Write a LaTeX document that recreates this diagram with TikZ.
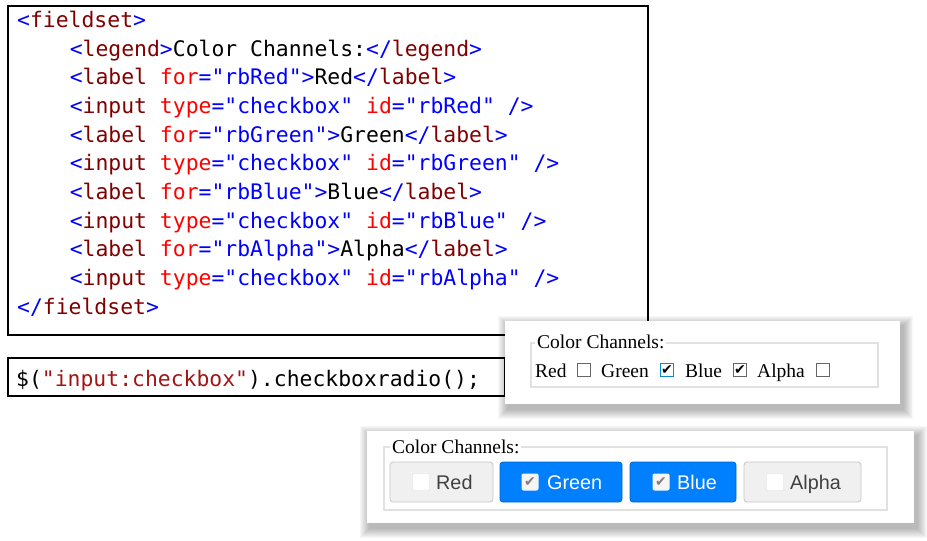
\documentclass[tikz,border=0pt]{standalone}
\usepackage{fontspec}
\setmainfont{Liberation Serif}
\setmonofont{DejaVu Sans Mono}
\newfontfamily\arialf{Liberation Sans}
\newfontfamily\djv{DejaVu Sans}
\usetikzlibrary{positioning}
\definecolor{tagb}{RGB}{0,0,255}
\definecolor{tagn}{RGB}{128,0,0}
\definecolor{attr}{RGB}{255,0,0}
\definecolor{strc}{RGB}{163,21,21}
\definecolor{jqblue}{RGB}{0,127,255}
\definecolor{fsgray}{RGB}{225,225,225}
\newcommand{\tb}[1]{\textcolor{tagb}{#1}}
\newcommand{\tn}[1]{\textcolor{tagn}{#1}}
\newcommand{\ta}[1]{\textcolor{attr}{#1}}
\newcommand{\ck}{{\djv\fontsize{14}{14}\selectfont ✔}}
\tikzset{
 code/.style={anchor=base west,inner sep=0,font=\ttfamily\fontsize{21.4}{21.4}\selectfont},
 fset/.style={draw=fsgray,line width=1.2pt},
 serif/.style={anchor=base west,inner sep=0,font=\fontsize{19.5}{19.5}\selectfont},
 cb/.style={draw=gray!80!black,line width=0.8pt,minimum size=13pt,inner sep=0},
 btn/.style={rounded corners=3pt,line width=0.8pt},
 btxt/.style={anchor=base west,inner sep=0,font=\arialf\fontsize{19.8}{19.8}\selectfont},
}
\newcommand{\shadowbox}[4]{%
 \foreach \k in {10,...,1}{\fill[black,opacity=0.03] (#1-\k+3,#2-\k+5) rectangle (#3+\k+3,#4+\k+5);}
 \fill[white] (#1,#2) rectangle (#3,#4);}
\begin{document}
\begin{tikzpicture}[x=1pt,y=-1pt]
\useasboundingbox (0,0) rectangle (927,541);
\draw[line width=1.3pt] (8,6) rectangle (648,335);
\node[code] (l1) at (17,27) {\tb{<}\tn{fieldset}\tb{>}};
\node[code] (l2) at (69.6,56) {\tb{<}\tn{legend}\tb{>}Color Channels:\tb{</}\tn{legend}\tb{>}};
\node[code] (l3) at (69.6,84.7) {\tb{<}\tn{label} \ta{for}\tb{="rbRed"}\tb{>}Red\tb{</}\tn{label}\tb{>}};
\node[code] (l4) at (69.6,113.4) {\tb{<}\tn{input} \ta{type}\tb{="checkbox"} \ta{id}\tb{="rbRed" />}};
\node[code] (l5) at (69.6,142.1) {\tb{<}\tn{label} \ta{for}\tb{="rbGreen"}\tb{>}Green\tb{</}\tn{label}\tb{>}};
\node[code] (l6) at (69.6,170.8) {\tb{<}\tn{input} \ta{type}\tb{="checkbox"} \ta{id}\tb{="rbGreen" />}};
\node[code] (l7) at (69.6,199.5) {\tb{<}\tn{label} \ta{for}\tb{="rbBlue"}\tb{>}Blue\tb{</}\tn{label}\tb{>}};
\node[code] (l8) at (69.6,228.2) {\tb{<}\tn{input} \ta{type}\tb{="checkbox"} \ta{id}\tb{="rbBlue" />}};
\node[code] (l9) at (69.6,256.9) {\tb{<}\tn{label} \ta{for}\tb{="rbAlpha"}\tb{>}Alpha\tb{</}\tn{label}\tb{>}};
\node[code] (l10) at (69.6,285.6) {\tb{<}\tn{input} \ta{type}\tb{="checkbox"} \ta{id}\tb{="rbAlpha" />}};
\node[code] (l11) at (17,314.3) {\tb{</}\tn{fieldset}\tb{>}};
% jquery line
\draw[line width=1.3pt] (8,358) rectangle (505,396);
\node[code] (jq) at (16,386) {\$(\textcolor{strc}{"input:checkbox"}).checkboxradio();};
% panel 1
\shadowbox{505}{321}{900}{404}
\draw[fset] (531,343) rectangle (878,387);
\node[serif,fill=white,inner xsep=2pt] (lg1) at (535,348) {Color Channels:};
\node[serif] (r1) at (535,377) {Red};
\node[cb] (c1) at (584,370) {};
\node[serif] (g1) at (601,377) {Green};
\node[cb,draw=cyan!70!blue] (c2) at (667,370) {\ck};
\node[serif] (b1) at (685,377) {Blue};
\node[cb] (c3) at (740,370) {\ck};
\node[serif] (a1) at (757,377) {Alpha};
\node[cb] (c4) at (823,370) {};
% panel 2
\shadowbox{367}{431}{914}{523}
\draw[fset] (384,447) rectangle (887,510);
\node[serif,fill=white,inner xsep=2pt] (lg2) at (390,453) {Color Channels:};
\draw[btn,fill=gray!12,draw=gray!45] (390,462) rectangle (493,502);
\draw[btn,fill=jqblue,draw=jqblue!80!black] (500,462) rectangle (622,502);
\draw[btn,fill=jqblue,draw=jqblue!80!black] (630,462) rectangle (736,502);
\draw[btn,fill=gray!12,draw=gray!45] (744,462) rectangle (861,502);
\node[draw=gray!25,fill=white,minimum size=17pt,inner sep=0,rounded corners=2pt] (k1) at (421,482) {};
\node[fill=gray!8,minimum size=17pt,inner sep=0,rounded corners=2pt,text=gray] (k2) at (530,482) {\ck};
\node[fill=gray!8,minimum size=17pt,inner sep=0,rounded corners=2pt,text=gray] (k3) at (661,482) {\ck};
\node[draw=gray!25,fill=white,minimum size=17pt,inner sep=0,rounded corners=2pt] (k4) at (775,482) {};
\node[btxt,text=black!75] (t1) at (436,489) {Red};
\node[btxt,text=white] (t2) at (547,489) {Green};
\node[btxt,text=white] (t3) at (677,489) {Blue};
\node[btxt,text=black!75] (t4) at (790,489) {Alpha};
\end{tikzpicture}
\end{document}
